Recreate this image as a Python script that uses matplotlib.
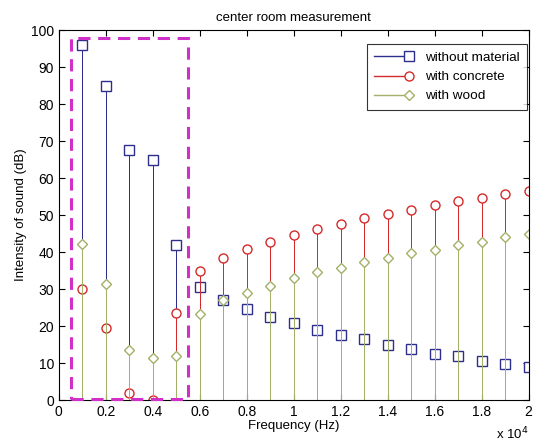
import numpy as np
import matplotlib
matplotlib.use('Agg')
import matplotlib.pyplot as plt
from matplotlib.lines import Line2D
from matplotlib.patches import Rectangle
from matplotlib.legend_handler import HandlerLine2D

plt.rcParams['font.family'] = ['Liberation Sans', 'DejaVu Sans']

# data
freq = [1000, 2000, 3000, 4000, 5000, 6000, 7000, 8000, 9000, 10000,
        11000, 12000, 13000, 14000, 15000, 16000, 17000, 18000, 19000, 20000]
without_material = [96, 85, 67.5, 65, 42, 30.5, 27, 24.5, 22.5, 20.8,
                    19, 17.5, 16.5, 15, 13.8, 12.5, 11.8, 10.5, 9.7, 8.9]
with_concrete = [30, 19.5, 2, 0, 23.5, 35, 38.3, 40.8, 42.8, 44.5,
                 46.2, 47.7, 49.2, 50.3, 51.5, 52.7, 53.8, 54.7, 55.6, 56.5]
with_wood = [42.3, 31.5, 13.5, 11.5, 11.8, 23.3, 27, 29, 30.8, 33,
             34.5, 35.8, 37.2, 38.3, 39.8, 40.7, 41.9, 42.8, 44, 44.8]
xtick_vals = [0, 2000, 4000, 6000, 8000, 10000, 12000, 14000, 16000, 18000, 20000]
xtick_labels = ['0', '0.2', '0.4', '0.6', '0.8', '1', '1.2', '1.4', '1.6', '1.8', '2']

c_blue = '#2e2e8c'
c_red = '#d42a2a'
c_green = '#a3b168'


class EndMarkerHandler(HandlerLine2D):
    # matlab style legend entry: line with marker only at the right end
    def create_artists(self, legend, orig_handle, xdescent, ydescent,
                       width, height, fontsize, trans):
        y = (height - ydescent) / 2
        ln = Line2D([-xdescent, width - xdescent], [y, y],
                    color=orig_handle.get_color(), lw=orig_handle.get_linewidth())
        mk = Line2D([width - xdescent], [y], ls='none',
                    marker=orig_handle.get_marker(), ms=orig_handle.get_markersize(),
                    mfc='white', mec=orig_handle.get_markeredgecolor(), mew=1.0)
        ln.set_transform(trans)
        mk.set_transform(trans)
        return [ln, mk]


fig = plt.figure(figsize=(5.34, 4.45), dpi=100)
ax = fig.add_axes([0.110, 0.101, 0.880, 0.831])

series = [(without_material, c_blue, 's', 'without material'),
          (with_concrete, c_red, 'o', 'with concrete'),
          (with_wood, c_green, 'D', 'with wood')]
handles = []
for vals, col, mk, lab in series:
    ms = 5.5 if mk == 'D' else 6.5
    ax.vlines(freq, 0, vals, color=col, lw=0.72, antialiased=False)
    ax.plot(freq, vals, ls='none', marker=mk, ms=ms, mfc='white', mec=col, mew=1.0)
    handles.append(Line2D([], [], color=col, lw=1.0, marker=mk, ms=ms,
                          mfc='white', mec=col, label=lab))

# highlighted low-frequency region
ax.add_patch(Rectangle((520, 0.3), 5000, 97.6, fill=False, ec='#d030c8',
                       lw=2.2, ls=(0, (4, 2.5)), clip_on=False, zorder=5))

ax.set_xlim(0, 20000)
ax.set_ylim(0, 100)
ax.set_xticks(xtick_vals)
ax.set_xticklabels(xtick_labels)
ax.set_yticks(np.arange(0, 101, 10))
ax.tick_params(direction='in', top=True, right=True, labelsize=10, length=4)
for s in ax.spines.values():
    s.set_linewidth(0.8)

ax.set_title('center room measurement', fontsize=9.5, pad=7)
ax.set_xlabel('Frequency (Hz)', fontsize=9.5, labelpad=1)
ax.set_ylabel('Intensity of sound (dB)', fontsize=9.5, labelpad=3)
fig.text(0.928, 0.012, 'x 10$^4$', fontsize=9.5)

leg = ax.legend(handles=handles, handler_map={Line2D: EndMarkerHandler()},
                loc='upper right', fontsize=9.7, fancybox=False,
                edgecolor='black', handlelength=2.6, handletextpad=1.2,
                borderpad=0.55, labelspacing=0.5, borderaxespad=0,
                bbox_to_anchor=(0.997, 0.962))
leg.get_frame().set_linewidth(0.8)

fig.savefig('out.png', dpi=100)
